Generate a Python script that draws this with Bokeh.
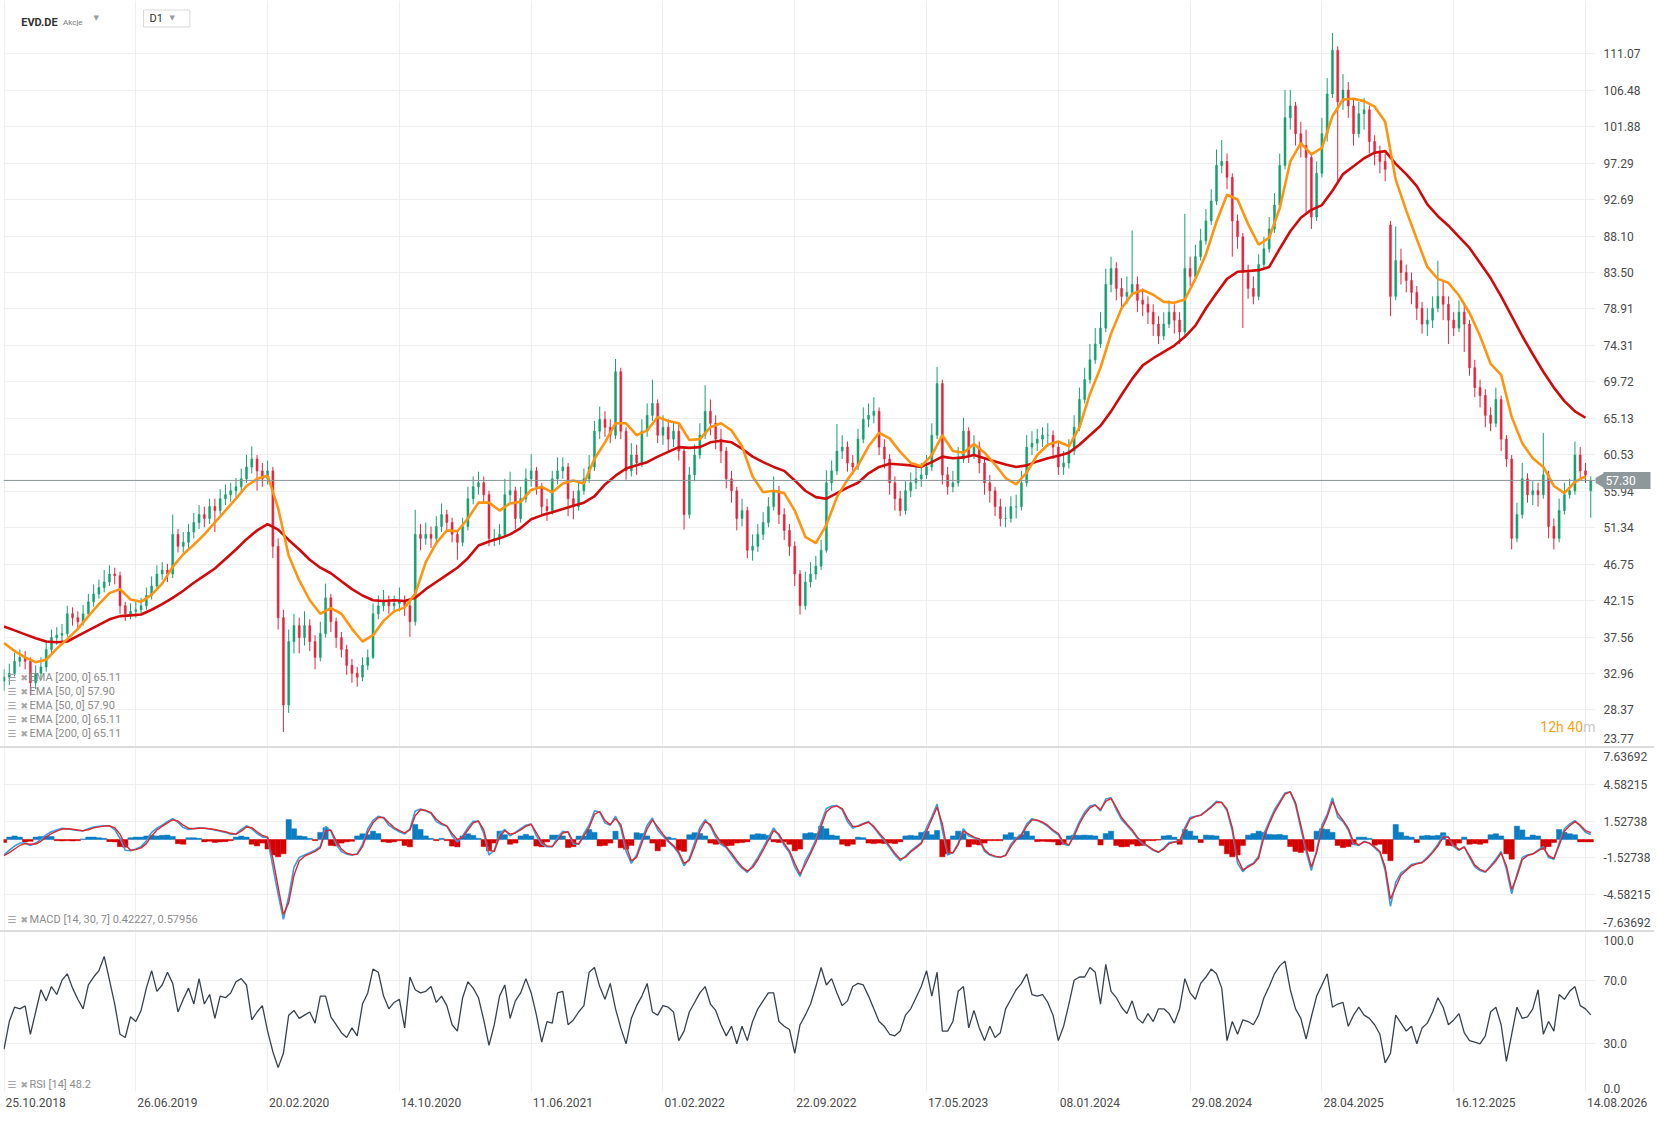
import math
from bokeh.plotting import figure
from bokeh.models import (Range1d, FixedTicker, PrintfTickFormatter, Label, Span,
                          ColumnDataSource, Div)
from bokeh.layouts import column, row
from bokeh.core.properties import value
from bokeh.embed import file_html
from bokeh.resources import INLINE

# ---------------- data ----------------
symbol = "EVD.DE"
instrument_type = "Akcje"
interval = "D1"

date_labels = ["25.10.2018", "26.06.2019", "20.02.2020", "14.10.2020", "11.06.2021",
               "01.02.2022", "22.09.2022", "17.05.2023", "08.01.2024", "29.08.2024",
               "28.04.2025", "16.12.2025", "14.08.2026"]
date_bar_index = [0, 25, 50, 75, 100, 125, 150, 175, 200, 225, 250, 275, 300]

price_ticks = [23.77, 28.37, 32.96, 37.56, 42.15, 46.75, 51.34, 55.94, 60.53, 65.13,
               69.72, 74.31, 78.91, 83.50, 88.10, 92.69, 97.29, 101.88, 106.48, 111.07]
macd_ticks = [-7.63692, -4.58215, -1.52738, 1.52738, 4.58215, 7.63692]
rsi_ticks = [0.0, 30.0, 70.0, 100.0]

opens = [32.0,32.5,33,34.5,35,34.5,31.8,33,33.8,36,
37.5,37.8,38,40.5,40,39.5,40.5,42,43,43.8,
44.5,45.5,45.3,41.5,40.5,40.8,41,41.5,42.8,44,
45.5,46,45.5,50.5,49,49.5,50.8,52,53,52.5,
54,53.5,55,55.5,56,56.5,57.5,59,60,58.5,
57.5,58.5,49,40,29,37,39,37.5,39,37,
35,38,42.5,39.5,37.5,36,34,33,32.5,34,
35,40.5,41.5,42,41.5,41.8,42,41.5,39.5,50.5,
50,50.5,50,51.5,53,52,50.5,49.5,51.5,55,
56.5,57,55.5,50,50,50.5,55.5,56,52.5,55,
57.5,58.5,56.5,54,53.5,57.5,58.5,59,55,54,
56,57.5,59,63.5,65,64,63,71,63.5,58.5,
60.5,59.5,63.5,65.5,67,63,64,62.5,63.5,61,
53,58,60.5,63,66,64.5,62.5,61,57.5,56,
52.5,53.5,48.5,49,50.5,52,54,56,53,51,
49,45.5,41.5,44.5,45.5,46.5,48.5,57,58.5,61,
61.5,59.5,59,62.5,65,65.5,66,61.5,60,57,
55,53.5,56,57,57.5,58,59,63,69.5,58,
56.5,57,60,63.5,60.5,61.5,59.5,57,56,54,
52.5,52.5,54,54,57,61.5,62,62.5,63,63,
61.5,59,59.5,61,64,67.5,70,72.5,74.5,76.5,
82,84,81.5,80.5,81,82,80,79.5,78.5,77,
75.5,77,78.5,77.5,76,84,83,85.5,87.5,90,
92.5,97,97.5,95.5,90,88,83.5,81.5,80.5,84.5,
86.5,89,92,97,103,104.5,101,99.5,98,90.5,
96,101,106,111.5,105,106.5,104.5,101,103.5,104,
100,98.5,97.5,89.5,80.5,85,83.5,82.5,81,79,
77,77.5,79,80.5,79.5,77.5,76.5,78.5,77,71.5,
69,68,65.5,64.5,67.5,62.5,60,50,53,57.5,
55.5,56,55.5,58,51.5,50,53.5,55.5,56,60.5,
58.5,56]

highs = [33.5,34.2,35.6,36,35.8,35,34,35,37.2,38.5,
38.8,39.2,41.5,41.3,40.8,41.6,43,44.2,44.8,46,
46.6,46.3,45.8,42,41.8,42,42.5,43.8,45.2,46.6,
47,46.8,53,51.2,50.8,51.8,53.2,54.2,54,55,
55,56.2,56.8,57,57.6,58.8,60.5,61.6,60.5,59.5,
59.8,59,50,41,38.5,40.5,40,40.8,39.8,37.8,
39.5,44.3,43,40,38.2,36.6,34.8,33.8,35,36,
41.8,42.8,43.5,42.8,42.8,43.8,42.8,42,53.6,51.8,
52,51.5,52.8,54.4,53.6,52.6,51,52.6,56.5,57.8,
58.4,57.8,56,51.2,51.8,57.5,58.4,56.5,56.5,58.8,
60.6,59,57,55,58.5,60.2,60.2,59.5,56,57.2,
58.8,60.5,64.8,66.6,66,65,72.6,71.5,64,62,
61.8,65,67,70,67.5,65.5,65,64.8,64.5,61.5,
59,61.8,64.5,69.3,67.5,65.5,63.8,61.5,58.5,56.5,
55,54,50.5,51.8,53.3,55.2,57.8,56.6,53.8,51.8,
49.6,46,45.8,47,47.8,49.8,58.6,59.8,64.4,63,
62.2,60.5,63.8,66.5,67,67.8,66.5,62.5,60.6,57.8,
56,57.2,58.3,59,59.5,60.5,64.5,71.6,70,59,
58.5,61.5,65.2,64,63,62.2,60,58,56.5,55,
54,55.3,55.5,58.5,63,63.5,63.8,64,64.5,63.6,
62,61,62.5,65.5,69,71.5,74.5,76.5,78.5,84,
85.5,84.8,82.8,83,88.8,83,81.5,80.5,79.5,78,
78.5,80,79.5,78.5,90.9,85.5,87,89,91.5,94,
99,100.2,98.5,96,90.8,88.5,84.5,83,85.8,88,
90.5,93.5,98.5,106.5,106.5,105,102.5,101.5,98.5,97.5,
103,108,113.7,112,108.5,107.5,105.5,105,105.5,104.5,
100.8,99.5,98.5,90,89.3,86.5,84.5,83.5,81.8,79.8,
79,80.5,85,82.5,80.5,78.5,80,79.5,77.5,72.5,
70,68.8,66.5,69,68,63,60.5,54.5,59.5,58.2,
57.2,57,63.3,58.5,52.5,55,57,57.5,62.2,61.5,
59.5,57.8]

lows = [30.8,31.5,32.6,33.8,33.5,30.2,31,32.2,33.2,35.5,
36.6,37,37.6,39,38.6,39,40,41.4,42.4,43.2,
44,44.2,40.5,39.6,39.8,40,40.3,41,42.3,43.5,
44.8,44.5,45,48.2,48.2,48.8,50,51.2,51.4,51.8,
50.8,53,54.2,54.6,55.2,55.8,57,58.2,56,56.5,
56.8,47.5,38.5,25.6,28,35.5,35.5,36.5,35.8,33.5,
34.5,37.5,38.2,36.2,35,32.8,31.8,31.3,32,33.4,
34.8,39.8,40.8,40.5,40.6,40.8,40.2,37.6,39,48.5,
49.2,48.8,49.5,50.8,50.8,49.5,47.3,49,51,54.3,
55.5,54.5,49,49,49.2,50.2,54.5,51.2,52,54.5,
56.5,55.5,52.8,52.2,53,56.8,57.5,52.8,52.4,53.5,
55.5,57,58.5,62.5,62.8,62,62.5,62.5,57.4,57.8,
58,59,62.8,64.8,62,61.8,61,61.5,59.8,51.1,
52.5,57.2,60,62.5,63,61.2,59.5,56.3,54.5,51,
51.5,47.5,47.2,48.3,49.8,51.4,53.5,51.8,49.8,47.8,
44,40.4,41,43.8,44.8,46,48.2,56,58,60,
58.4,58,58.6,62,64,64.5,60.5,58.8,55.5,53.5,
52.8,53,55.2,56.2,56.5,57.5,58.5,62.5,56.8,55.5,
55.8,56.5,59.5,59.5,60,58.2,55.5,54.5,52.8,51.5,
51.4,52,52.5,53.5,56.5,60.5,61,61.5,61.5,60,
58,58,58.8,60.5,63.5,67,69.5,72,74,76,
81,80,79,79.5,80.5,78.5,78,77,75.5,74.5,
75,76.5,75.8,74.5,75.5,81.8,82.5,85,87,89.5,
92,96,94,85.5,86.5,76.5,80.2,79.5,80,84,
86,88.5,91.5,96.5,101.5,99.5,98,91,89,90,
95.5,100,105.5,95,104,103,99.5,100.5,101.5,98.5,
97,96,95,78,80,82,81,79.5,77.5,75.8,
75.5,76.5,78.5,77.5,74.5,75.5,76,73.5,70.5,67.8,
66.5,64,63.5,64,61,59,48.6,49.5,52.5,54.5,
54.2,54,55,50,48.6,49.5,53,55,55.5,57.5,
57,52.6]

closes = [32.5,33,34.5,35,34.5,31.8,33,33.8,36,37.5,
37.8,38,40.5,40,39.5,40.5,42,43,43.8,44.5,
45.5,45.3,41.5,40.5,40.8,41,41.5,42.8,44,45.5,
46,45.5,50.5,49,49.5,50.8,52,53,52.5,54,
53.5,55,55.5,56,56.5,57.5,59,60,58.5,57.5,
58.5,49,40,29,37,39,37.5,39,37,35,
38,42.5,39.5,37.5,36,34,33,32.5,34,35,
40.5,41.5,42,41.5,41.8,42,41.5,39.5,50.5,50,
50.5,50,51.5,53,52,50.5,49.5,51.5,55,56.5,
57,55.5,50,50,50.5,55.5,56,52.5,55,57.5,
58.5,56.5,54,53.5,57.5,58.5,59,55,54,56,
57.5,59,63.5,65,64,63,71,63.5,58.5,60.5,
59.5,63.5,65.5,67,63,64,62.5,63.5,61,53,
58,60.5,63,66,64.5,62.5,61,57.5,56,52.5,
53.5,48.5,49,50.5,52,54,56,53,51,49,
45.5,41.5,44.5,45.5,46.5,48.5,57,58.5,61,61.5,
59.5,59,62.5,65,65.5,66,61.5,60,57,55,
53.5,56,57,57.5,58,59,63,69.5,58,56.5,
57,60,63.5,60.5,61.5,59.5,57,56,54,52.5,
52.5,54,54,57,61.5,62,62.5,63,63,61.5,
59,59.5,61,64,67.5,70,72.5,74.5,76.5,82,
84,81.5,80.5,81,82,80,79.5,78.5,77,75.5,
77,78.5,77.5,76,84,83,85.5,87.5,90,92.5,
97,97.5,95.5,90,88,83.5,81.5,80.5,84.5,86.5,
89,92,97,103,104.5,101,99.5,98,90.5,96,
101,106,111.5,105,106.5,104.5,101,103.5,104,100,
98.5,97.5,96.5,80.5,85,83.5,82.5,81,79,77,
77.5,79,80.5,79.5,77.5,76.5,78.5,77,71.5,69,
68,65.5,64.5,67.5,62.5,60,50,53,57.5,55.5,
56,55.5,58,51.5,50,53.5,55.5,56,60.5,58.5,
58,57.30]

# EMA lines, read every second bar
ema200 = [38.9,38.4,37.9,37.4,37.0,36.9,37.0,37.7,38.4,39.1,
39.8,40.2,40.3,40.4,41.0,41.7,42.5,43.4,44.4,45.3,
46.2,47.4,48.6,49.9,51.0,51.8,51.1,49.8,48.6,47.3,
46.3,45.6,44.6,43.6,42.8,42.2,42.1,42.2,42.1,42.5,
43.6,44.5,45.4,46.3,47.5,49.1,49.6,50.0,50.5,51.3,
52.4,52.9,53.3,53.7,54.1,54.5,55.3,56.8,57.9,58.8,
59.2,59.6,60.3,60.9,61.5,61.4,61.5,62.1,62.3,62.1,
61.3,60.3,59.6,59.0,58.5,57.3,56.0,55.2,55.0,55.7,
56.4,57.0,58.2,59.0,59.4,59.3,59.2,59.0,59.6,60.3,
60.1,60.2,60.5,60.1,59.7,59.3,59.0,59.2,59.7,60.1,
60.4,60.8,61.8,63.0,64.2,66.0,68.1,70.1,71.8,72.7,
73.5,74.3,75.4,76.8,79.0,80.9,82.7,83.6,83.7,83.8,
84.2,86.5,88.7,90.4,91.4,92.0,93.8,95.9,96.9,97.9,
98.6,98.8,97.2,95.9,94.4,92.1,90.6,89.4,88.0,86.6,
84.7,82.8,80.5,78.0,75.5,73.2,71.0,69.0,67.3,66.0,
65.2]

ema50 = [36.8,35.8,35.0,34.4,34.7,36.1,37.3,38.6,40.2,41.7,
43.1,43.6,42.3,42.0,42.9,44.3,46.4,48.0,49.2,50.5,
52.0,53.5,55.0,56.6,57.5,57.9,53.8,47.8,44.7,42.2,
40.5,41.2,40.5,38.6,37.0,37.8,39.6,40.8,41.3,43.0,
47.0,49.4,51.0,50.9,52.5,54.5,54.5,53.5,54.4,54.6,
56.1,56.5,55.8,56.9,57.3,56.9,60.0,62.1,64.5,64.5,
63.0,63.6,65.3,64.8,64.5,62.4,62.5,64.0,64.5,63.6,
61.6,57.8,55.8,56.0,55.7,53.5,50.2,49.4,51.7,55.2,
57.4,59.2,61.6,63.3,62.6,60.9,59.5,59.1,60.5,63.0,
61.0,60.8,61.9,60.8,59.3,57.6,56.8,58.3,60.5,61.8,
62.2,61.6,64.0,68.2,71.5,75.8,79.0,80.8,81.3,80.7,
79.8,79.7,80.1,82.7,85.8,89.9,93.3,92.7,89.6,87.0,
87.9,91.6,97.5,99.8,98.4,99.2,103.2,105.3,105.4,105.1,
104.4,102.5,95.2,91.3,87.7,84.2,82.7,82.2,80.6,78.4,
75.5,72.0,70.6,65.3,62.0,60.1,59.0,56.6,55.7,57.1,
57.8]

macd = [-1.29,-0.9,-0.55,-0.3,-0.3,-0.5,-0.3,0.0,0.4,0.65,
0.8,0.95,0.9,0.82,0.75,0.71,0.9,1.04,1.1,1.15,
1.15,0.84,0.1,-0.9,-0.95,-0.8,-0.6,-0.1,0.6,0.95,
1.2,1.5,1.75,1.45,1.0,0.85,0.92,0.98,0.95,0.88,
0.8,0.7,0.6,0.45,0.45,0.85,1.15,0.9,0.5,0.22,
0.15,-2.3,-4.6,-6.7,-4.8,-2.34,-1.5,-1.3,-1.1,-0.9,
-0.6,1.1,0.7,-0.4,-1.0,-1.23,-1.29,-1.2,-0.4,0.9,
1.6,1.95,1.8,1.2,0.9,0.65,0.45,0.9,2.4,2.55,
2.4,2.2,1.5,1.25,1.12,0.3,-0.2,0.29,1.0,1.53,
1.53,0.5,-1.3,-0.9,0.5,0.84,0.3,0.6,0.9,1.2,
1.3,0.3,-0.4,-0.6,-0.6,0.15,0.7,0.6,-0.4,-0.4,
0.5,1.2,2.4,2.3,1.4,1.2,1.95,1.0,-1.0,-2.0,
-1.3,0.0,1.2,1.8,0.8,0.3,-0.2,-0.6,-1.2,-2.2,
-1.6,-0.3,1.0,1.67,1.1,0.2,-0.4,-0.68,-1.3,-1.92,
-2.4,-2.75,-2.2,-1.5,-0.7,0.15,0.98,0.3,-0.5,-1.1,
-2.3,-3.1,-1.8,-1.0,0.0,1.4,2.6,2.8,2.85,2.5,
1.5,0.95,1.15,1.35,1.5,1.0,0.43,-0.1,-0.68,-1.3,
-1.78,-1.4,-0.95,-0.6,-0.26,1.0,1.9,2.97,0.8,-1.3,
-1.1,-0.3,0.9,0.3,0.15,0.0,-1.0,-1.3,-1.45,-1.5,
-1.3,-0.4,0.1,0.43,1.3,1.75,1.6,1.4,1.1,0.7,
0.4,-0.4,-0.5,0.5,1.5,2.3,2.8,2.92,2.4,3.4,
3.5,2.5,1.67,1.2,0.7,0.1,-0.35,-0.6,-0.9,-1.09,
-0.7,-0.26,-0.2,-0.12,1.0,1.85,1.95,2.05,2.4,2.78,
3.2,3.1,2.4,0.71,-2.0,-2.7,-2.2,-2.0,-1.4,0.5,
1.5,2.5,3.2,3.9,4.0,2.9,0.9,-1.0,-2.6,-0.9,
1.2,2.1,3.5,1.9,1.5,0.8,-0.4,-0.5,-0.15,-0.3,
-0.68,-1.1,-2.6,-5.6,-3.6,-2.8,-2.5,-2.1,-2.0,-1.92,
-1.5,-1.0,-0.4,0.35,0.2,-0.6,-0.9,-0.6,-1.5,-2.3,
-2.6,-2.75,-2.2,-1.65,-1.0,-2.5,-4.55,-2.9,-1.5,-1.3,
-1.2,-0.9,-0.6,-1.5,-1.65,-0.3,0.9,1.3,1.59,1.12,
0.6,0.42227]

signal = [-1.35,-1.1,-0.8,-0.5,-0.35,-0.4,-0.38,-0.15,0.2,0.5,
0.7,0.88,0.9,0.86,0.8,0.74,0.82,0.98,1.06,1.12,
1.15,0.98,0.45,-0.45,-0.9,-0.85,-0.7,-0.35,0.3,0.8,
1.1,1.4,1.65,1.55,1.2,0.95,0.9,0.95,0.95,0.9,
0.84,0.75,0.65,0.52,0.45,0.7,1.05,1.0,0.65,0.35,
0.2,-1.6,-4.0,-6.3,-5.3,-3.0,-1.8,-1.4,-1.2,-1.0,
-0.7,0.7,0.8,-0.1,-0.8,-1.15,-1.28,-1.25,-0.6,0.6,
1.4,1.85,1.85,1.4,1.0,0.75,0.55,0.8,2.0,2.5,
2.45,2.25,1.7,1.35,1.15,0.5,0.0,0.2,0.8,1.4,
1.55,0.8,-0.9,-1.0,0.2,0.75,0.45,0.55,0.8,1.1,
1.28,0.55,-0.2,-0.55,-0.6,-0.05,0.55,0.65,-0.2,-0.4,
0.3,1.0,2.1,2.35,1.6,1.25,1.75,1.25,-0.5,-1.8,
-1.5,-0.3,0.9,1.65,1.05,0.45,-0.1,-0.5,-1.05,-2.0,
-1.75,-0.6,0.7,1.5,1.25,0.4,-0.25,-0.6,-1.15,-1.75,
-2.3,-2.65,-2.35,-1.7,-0.9,-0.05,0.75,0.45,-0.35,-0.95,
-2.0,-2.9,-2.1,-1.2,-0.25,1.1,2.3,2.7,2.8,2.6,
1.75,1.1,1.1,1.3,1.45,1.1,0.55,0.05,-0.55,-1.15,
-1.65,-1.5,-1.05,-0.7,-0.35,0.7,1.7,2.7,1.3,-1.0,
-1.15,-0.45,0.7,0.45,0.2,0.05,-0.85,-1.25,-1.4,-1.48,
-1.35,-0.6,0.0,0.35,1.1,1.65,1.62,1.45,1.18,0.8,
0.5,-0.25,-0.45,0.3,1.3,2.1,2.65,2.88,2.5,3.2,
3.45,2.7,1.85,1.3,0.8,0.2,-0.25,-0.55,-0.85,-1.05,
-0.8,-0.35,-0.22,-0.15,0.8,1.7,1.92,2.02,2.35,2.7,
3.1,3.12,2.55,1.0,-1.6,-2.55,-2.3,-2.05,-1.55,0.2,
1.3,2.3,3.05,3.8,4.0,3.1,1.2,-0.7,-2.3,-1.1,
0.9,1.9,3.2,2.2,1.6,0.95,-0.2,-0.45,-0.2,-0.3,
-0.6,-1.0,-2.3,-5.0,-4.0,-3.0,-2.6,-2.2,-2.05,-1.95,
-1.6,-1.1,-0.55,0.2,0.2,-0.45,-0.85,-0.65,-1.35,-2.15,
-2.5,-2.7,-2.3,-1.8,-1.15,-2.2,-4.2,-3.1,-1.7,-1.35,
-1.22,-0.95,-0.7,-1.35,-1.6,-0.5,0.7,1.15,1.5,1.2,
0.75,0.57956]

histogram = [-0.25,0.2,0.3,0.2,-0.2,-0.15,0.2,0.25,0.3,0.25,
-0.1,-0.12,-0.1,-0.12,-0.1,0.05,0.2,0.2,0.15,0.1,
-0.18,-0.2,-0.6,-0.65,0.15,0.2,0.2,0.3,0.35,0.3,
0.35,0.37,0.25,-0.35,-0.4,0.15,0.15,0.1,-0.2,-0.15,
-0.25,-0.2,-0.18,-0.1,0.2,0.29,0.2,-0.4,-0.54,-0.3,
-0.8,-1.3,-1.45,-1.2,1.67,0.9,0.3,0.25,0.1,-0.1,
0.6,0.98,-0.5,-0.54,-0.3,-0.2,-0.15,0.3,0.48,0.4,
0.7,0.5,-0.2,-0.26,-0.2,-0.1,-0.5,-0.62,1.26,0.84,
0.3,0.1,-0.1,0.1,-0.1,-0.55,-0.62,0.3,0.48,0.35,
0.1,-0.6,-0.95,-0.3,0.7,0.4,-0.4,-0.3,0.3,0.43,
0.3,-0.55,-0.62,-0.2,0.37,0.37,0.3,-0.68,-0.6,0.29,
0.29,0.84,0.6,-0.54,-0.5,-0.3,0.7,-0.7,-0.82,-0.5,
0.57,0.5,0.3,-0.3,-0.95,-0.6,0.2,0.1,-0.9,-1.0,
0.4,0.57,0.5,0.3,-0.3,-0.4,-0.35,-0.54,-0.5,-0.3,
-0.26,-0.2,0.4,0.48,0.45,0.35,-0.2,-0.26,-0.2,-0.4,
-0.95,-0.8,0.5,0.57,0.5,1.12,0.9,0.37,0.3,-0.4,
-0.54,-0.4,0.2,0.15,-0.3,-0.35,-0.3,-0.35,-0.3,-0.35,
-0.2,0.3,0.35,0.3,0.6,0.7,0.4,0.76,-1.45,-1.2,
0.3,0.7,0.5,-0.62,-0.4,-0.46,-0.3,-0.1,-0.1,-0.1,
0.4,0.57,0.2,0.4,0.7,0.3,-0.18,-0.15,-0.18,-0.2,
-0.46,-0.4,0.3,0.37,0.35,0.37,0.35,0.3,-0.46,0.5,
0.7,-0.5,-0.62,-0.6,-0.4,-0.54,-0.5,-0.1,-0.1,-0.05,
0.3,0.35,0.2,-0.4,0.84,0.7,0.3,-0.26,0.37,0.35,
0.3,-0.5,-1.2,-1.45,-1.3,-0.5,0.37,0.5,0.7,0.6,
0.43,0.4,0.43,0.35,-0.6,-1.0,-1.09,-0.9,-1.0,0.7,
0.9,0.85,0.6,-0.5,-0.68,-0.6,-0.4,0.2,0.2,0.1,
-0.48,-0.4,-1.2,-1.78,1.26,0.6,0.29,0.2,-0.26,0.3,
0.35,0.3,0.35,0.57,-0.5,-0.54,-0.3,0.2,-0.4,-0.35,
-0.4,-0.3,0.4,0.48,0.3,-1.2,-1.65,1.12,0.8,0.2,
0.37,0.3,-0.82,-0.6,-0.26,0.84,0.6,0.48,0.4,-0.2,
-0.2,-0.2]

rsi = [26.6,44,53,52,53.8,36,50,64,57,66,
61,70,74,65,58,52,67,72,76,85,
70,55,36,34,47,44,51,65,76,63,
67,75,68,50,58,65,55,71,55,61,
46,60,59,62,69,71,67,45,50,54,
38,25,15,24,48,51,46,48,50,43,
60,60,47,42,37,34,40,35,55,62,
77,75,60,52,56,58,40,72,64,62,
63,66,56,60,54,42,38,59,69,65,
59,45,29,42,60,67,46,57,62,71,
62,48,31,44,43,62,63,42,45,50,
54,75,78,66,58,68,52,40,30,46,
54,60,68,50,48,54,53,50,32,38,
50,56,62,66,55,51,42,35,41,30,
41,32,44,52,57,62,62,44,41,39,
24,42,48,55,66,78,67,71,62,54,
57,66,68,67,60,52,44,41,36,35,
38,48,52,59,66,76,60,75,38,38,
44,63,66,40,51,40,32,41,34,37,
52,58,64,68,74,61,60,61,56,48,
32,41,55,70,72,72,78,75,55,80,
63,59,53,49,57,46,43,49,44,52,
52,49,43,52,71,62,58,68,72,77,
74,65,32,44,36,45,44,42,48,59,
66,74,79,82,64,52,46,33,47,60,
67,74,53,55,56,41,48,53,48,46,
42,36,18,24,48,43,38,41,30,40,
43,50,59,53,42,45,49,37,32,31,
30,35,50,53,42,19,36,53,46,47,
52,64,36,44,38,61,58,63,66,54,
52,48.2]

ema_legend = ["EMA [200, 0] 65.11", "EMA [50, 0] 57.90", "EMA [50, 0] 57.90",
              "EMA [200, 0] 65.11", "EMA [200, 0] 65.11"]
macd_legend = "MACD [14, 30, 7] 0.42227, 0.57956"
rsi_legend = "RSI [14] 48.2"
countdown_num = "12h 40"
countdown_unit = "m"

# ---------------- styling ----------------
FONT = "Roboto"
UP = "#17a06f"
DOWN = "#e3263f"
MARK = "#8e989b"
GRID = "#efefef"
AXIS_TXT = "#4a4a4a"
LEG_TXT = "#8c8c8c"
FW = 1592          # width of every plot frame
LB, RB = 3, 59     # left border, right label column
PH, MH, RH = 746, 182, 159

n = min(len(opens), len(highs), len(lows), len(closes))
bars = list(range(n))
XR = Range1d(-0.1, 301.9)
UNIT = FW / (XR.end - XR.start)   # pixels per bar


def style_frame(p):
    p.outline_line_color = None
    p.background_fill_color = "white"
    p.border_fill_color = "white"


def style_axis(ax):
    ax.axis_line_color = None
    ax.major_tick_line_color = None
    ax.minor_tick_line_color = None
    ax.major_tick_out = 0
    ax.major_tick_in = 0
    ax.minor_tick_out = 0
    ax.minor_tick_in = 0
    ax.major_label_text_font = FONT
    ax.major_label_text_font_size = "12px"
    ax.major_label_text_color = AXIS_TXT


def make_fig(fh, y0, y1, right_border, bottom=0):
    p = figure(frame_width=FW, frame_height=fh, x_range=XR, y_range=Range1d(y0, y1),
               output_backend="svg", toolbar_location=None, x_axis_location=None,
               y_axis_location="right" if right_border else None,
               min_border_left=LB, min_border_right=right_border,
               min_border_top=0, min_border_bottom=bottom)
    style_frame(p)
    p.xgrid.ticker = FixedTicker(ticks=date_bar_index)
    p.xgrid.grid_line_color = GRID
    p.ygrid.grid_line_color = GRID
    return p


def txt(p, text, x, y, dx=0, dy=0, size="11px", color=LEG_TXT, align="left",
        baseline="middle", font=FONT, style="normal", **kw):
    p.add_layout(Label(x=x, y=y, x_offset=dx, y_offset=dy, text=text, text_font=font,
                       text_font_size=size, text_color=color, text_align=align,
                       text_baseline=baseline, text_font_style=style, **kw))


def legend_row(p, text, y, dy):
    txt(p, "\u2630", XR.start, y, dx=4, dy=dy, size="10px", color="#a6a6a6", font="DejaVu Sans")
    txt(p, "\u2716", XR.start, y, dx=17, dy=dy, size="9px", color="#a6a6a6", font="DejaVu Sans")
    txt(p, text, XR.start, y, dx=26, dy=dy)


def edge_tick(v, px, fh, span):
    # label position moved px pixels inward so that an edge label stays visible
    return round(v + px * span / fh, 3)


# ---------------- price panel ----------------
P_BOTTOM, P_TOP = price_ticks[0], 117.78
price = make_fig(PH, P_BOTTOM, P_TOP, 0)
price.ygrid.ticker = FixedTicker(ticks=price_ticks)

colors = [UP if c >= o else DOWN for o, c in zip(opens[:n], closes[:n])]
src = ColumnDataSource(dict(
    x=bars, low=lows[:n], high=highs[:n],
    top=[max(o, c) for o, c in zip(opens[:n], closes[:n])],
    bot=[min(o, c) for o, c in zip(opens[:n], closes[:n])],
    color=colors))
price.segment(x0="x", y0="low", x1="x", y1="high", line_color="color", line_width=1, source=src)
price.vbar(x="x", width=0.38, top="top", bottom="bot", fill_color="color",
           line_color="color", line_width=0.5, source=src)

ema_bars = bars[::2]
price.line(ema_bars[:len(ema200)], ema200[:len(ema_bars)], line_color="#d10b0b", line_width=2.6)
price.line(ema_bars[:len(ema50)], ema50[:len(ema_bars)], line_color="#ff9412", line_width=2.6)

last = closes[n - 1]
price.add_layout(Span(location=last, dimension="width", line_color="#8b9598", line_width=1))

for k, t in enumerate(ema_legend):
    legend_row(price, t, P_BOTTOM, 69 - 14 * k)

txt(price, countdown_unit, XR.end, P_BOTTOM, dy=20, size="14px", color="#c9c9c9", align="right")
txt(price, countdown_num, XR.end, P_BOTTOM, dx=-12.5, dy=20, size="14px", color="#f7a21b", align="right")

# header (inside the top of the frame)
txt(price, symbol, XR.start, P_TOP, dx=17.7, dy=-22, size="11px", color="#333333",
    baseline="alphabetic", style="bold")
txt(price, instrument_type, XR.start, P_TOP, dx=59.5, dy=-22, size="8px", color="#7a7a7a",
    baseline="alphabetic")
txt(price, "\u25BC", XR.start, P_TOP, dx=90, dy=-17, size="7px", color="#9a9a9a", font="DejaVu Sans")
txt(price, interval, XR.start, P_TOP, dx=140, dy=-18, size="11px", color="#333333",
    background_fill_color="white", border_line_color="#d9d9d9",
    padding=dict(left=6, right=27, top=2, bottom=2))
txt(price, "\u25BC", XR.start, P_TOP, dx=166, dy=-17, size="7px", color="#9a9a9a", font="DejaVu Sans")

# price label column on the right, with the last-price marker
side = figure(frame_width=RB, frame_height=PH, x_range=Range1d(0, RB), y_range=price.y_range,
              output_backend="svg", toolbar_location=None, x_axis_location=None,
              y_axis_location=None, min_border_left=0, min_border_right=0,
              min_border_top=0, min_border_bottom=0)
style_frame(side)
side.grid.visible = False
inner = price_ticks[1:]
p_bot_label = edge_tick(price_ticks[0], 8, PH, P_TOP - P_BOTTOM)
side.text(x=[8] * len(inner), y=inner, text=["%.2f" % v for v in inner],
          text_font=value(FONT), text_font_size=value("12px"), text_color=AXIS_TXT,
          text_align="left", text_baseline="middle")
side.text(x=[8], y=[p_bot_label], text=["%.2f" % price_ticks[0]],
          text_font=value(FONT), text_font_size=value("12px"), text_color=AXIS_TXT,
          text_align="left", text_baseline="middle")
side.rect(x=[31.5], y=[last], width=47, height=17, height_units="screen",
          fill_color=MARK, line_color=None)
side.scatter(x=[5], y=[last], marker="triangle", size=16, angle=math.pi / 2,
             fill_color=MARK, line_color=None)
side.text(x=[10], y=[last], text=["%.2f" % last], text_font=value(FONT),
          text_font_size=value("12px"), text_color="white", text_align="left",
          text_baseline="middle")

# ---------------- MACD panel ----------------
M = macd_ticks[-1]
macd_fig = make_fig(MH, -M, M, RB)
m_top = edge_tick(M, -8, MH, 2 * M)
m_bot = edge_tick(-M, 8, MH, 2 * M)
macd_fig.ygrid.ticker = FixedTicker(ticks=macd_ticks[1:-1])
mx = macd_fig.yaxis[0]
style_axis(mx)
mx.major_label_standoff = 8
mx.ticker = FixedTicker(ticks=[m_bot] + macd_ticks[1:-1] + [m_top])
mx.formatter = PrintfTickFormatter(format="%.5f")
mx.major_label_overrides = {m_top: "%.5f" % M, m_bot: "%.5f" % -M}

hcol = ["#0a7cc2" if v >= 0 else "#d40000" for v in histogram]
macd_fig.vbar(x=bars[:len(histogram)], width=1.0, top=histogram[:n], bottom=0,
              fill_color=hcol[:n], line_color=hcol[:n], line_width=0.5)
macd_fig.line(bars[:len(macd)], macd[:n], line_color="#3a9be0", line_width=1.6)
macd_fig.line(bars[:len(signal)], signal[:n], line_color="#e0262e", line_width=1.4)
legend_row(macd_fig, macd_legend, -M, 11)

# ---------------- RSI panel ----------------
rsi_fig = make_fig(RH, rsi_ticks[0], rsi_ticks[-1], RB, bottom=5)
r_bot = edge_tick(rsi_ticks[0], 3, RH, 100)
r_top = edge_tick(rsi_ticks[-1], -8, RH, 100)
rsi_fig.ygrid.ticker = FixedTicker(ticks=rsi_ticks)
rx = rsi_fig.yaxis[0]
style_axis(rx)
rx.major_label_standoff = 8
rx.ticker = FixedTicker(ticks=[r_bot] + rsi_ticks[1:-1] + [r_top])
rx.formatter = PrintfTickFormatter(format="%.1f")
rx.major_label_overrides = {r_bot: "%.1f" % rsi_ticks[0], r_top: "%.1f" % rsi_ticks[-1]}
rsi_fig.line(bars[:len(rsi)], rsi[:n], line_color="#38424c", line_width=1.3)
legend_row(rsi_fig, rsi_legend, 0, 7)

# ---------------- date axis strip ----------------
strip = figure(frame_width=FW + RB, frame_height=1,
               x_range=Range1d(XR.start, XR.start + (FW + RB) / UNIT), y_range=Range1d(0, 1),
               output_backend="svg", toolbar_location=None, y_axis_location=None,
               x_axis_location="below", min_border_left=LB, min_border_right=0,
               min_border_top=0, min_border_bottom=1)
style_frame(strip)
strip.grid.visible = False
dx_ax = strip.xaxis[0]
style_axis(dx_ax)
dx_ax.major_label_standoff = 0
label_ticks = [b + 6 for b in date_bar_index]   # labels start just right of their grid line
dx_ax.ticker = FixedTicker(ticks=label_ticks)
dx_ax.major_label_overrides = {t: d for t, d in zip(label_ticks, date_labels)}


def sep():
    return Div(text="", width=LB + FW + RB, height=2, margin=0,
               styles={"background-color": "#dcdcdc"})


layout = column(row(price, side, spacing=0), sep(), macd_fig, sep(), rsi_fig, strip, spacing=0)
open("out.html", "w").write(file_html(layout, INLINE, title="EVD.DE"))
